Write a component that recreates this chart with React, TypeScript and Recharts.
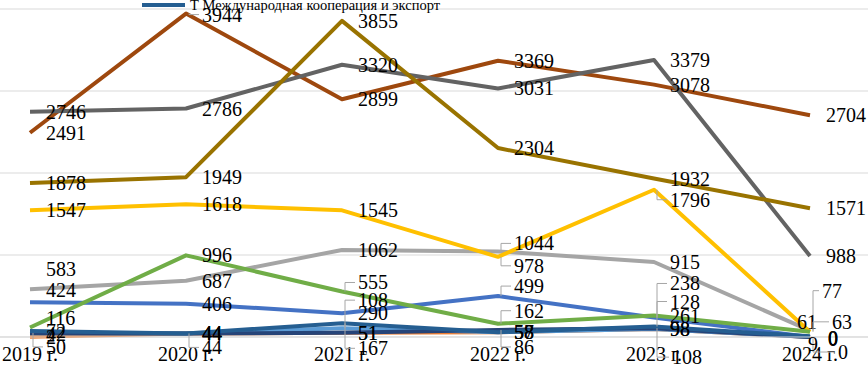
import React from "react";
import { LineChart, Line, XAxis, YAxis, CartesianGrid, LabelList } from "recharts";

const years = ["2019 г.", "2020 г.", "2021 г.", "2022 г.", "2023 г.", "2024 г."];
const yTicks = [0, 1000, 2000, 3000, 4000];

const blue = [424, 406, 290, 499, 238, 0];
const orange = [2, 44, 51, 58, 98, 0];
const gray = [583, 687, 1062, 1044, 915, 77];
const gold = [1547, 1618, 1545, 978, 1796, 61];
const lightBlue = [42, 44, 108, 57, 98, 0];
const green = [116, 996, 555, 162, 261, 63];
const navy = [50, 44, 51, 86, 108, 0];
const rust = [2491, 3944, 2899, 3369, 3078, 2704];
const darkGray = [2746, 2786, 3320, 3031, 3379, 988];
const olive = [1878, 1949, 3855, 2304, 1932, 1571];
const coop = [72, 44, 167, 58, 128, 9];

const series = [
    { key: "blue", color: "#4472C4", values: blue },
    { key: "orange", color: "#ED7D31", values: orange },
    { key: "gray", color: "#A5A5A5", values: gray },
    { key: "gold", color: "#FFC000", values: gold },
    { key: "lightBlue", color: "#5B9BD5", values: lightBlue },
    { key: "green", color: "#70AD47", values: green },
    { key: "navy", color: "#264478", values: navy },
    { key: "rust", color: "#9E480E", values: rust },
    { key: "darkGray", color: "#636363", values: darkGray },
    { key: "olive", color: "#997300", values: olive },
    { key: "coop", color: "#255E91", values: coop, name: "Т Международная кооперация и экспорт" },
];

const data = years.map((year, i) => {
    const row: any = { year };
    series.forEach(s => { row[s.key] = s.values[i]; });
    return row;
});

// label nudges [dx, dy, leader line?] relative to the point; default is right of the point
const nudges: Record<string, Record<number, [number, number, boolean?]>> = {
    rust: { 1: [16, 1, true] },
    gray: { 0: [16, -20], 3: [16, -8, true], 5: [12, -40, true] },
    blue: { 0: [16, -12], 3: [16, -10, true], 4: [16, -34, true], 5: [18, 1] },
    green: { 0: [16, -9], 2: [16, -9, true], 3: [16, -13, true], 5: [22, -10, true] },
    gold: { 3: [16, 9, true], 4: [16, 10, true], 5: [-13, -10] },
    coop: { 2: [16, 25, true], 4: [16, -25, true], 5: [-2, 8] },
    lightBlue: { 2: [16, -28, true], 5: [18, 2] },
    orange: { 5: [18, 1] },
    navy: { 0: [16, 14, true], 1: [16, 14, true], 3: [16, 17, true], 4: [18, 29, true], 5: [28, 15, true] },
};

const FONT = "'Liberation Serif', 'Times New Roman', serif";

const makeLabel = (key: string) => (props: any) => {
    const { x, y, value, index } = props;
    const [dx, dy, lead] = nudges[key]?.[index] ?? [16, 0, false];
    const lx = x + dx;
    const ly = y + dy;
    return (
        <g>
            {lead && (
                <polyline
                    points={`${x + 3},${y} ${x + 3},${ly} ${lx - 3},${ly}`}
                    fill="none"
                    stroke="#a6a6a6"
                    strokeWidth={1}
                />
            )}
            <text x={lx} y={ly} dy="0.35em" fontSize={20} fontFamily={FONT} fill="#000">
                {value}
            </text>
        </g>
    );
};

const YearTick = ({ x, y, payload }: any) => (
    <text x={x} y={y + 24} textAnchor="middle" fontSize={20} fontFamily={FONT} fill="#000">
        {payload.value}
    </text>
);

export default function App() {
    return (
        <div style={{ position: "fixed", left: 0, top: 0, width: 868, height: 370, overflow: "hidden", background: "#fff" }}>
            <LineChart width={868} height={370} data={data} margin={{ top: 9, right: 0, bottom: 3, left: 0 }}>
                <CartesianGrid vertical={false} stroke="#d9d9d9" />
                <XAxis
                    dataKey="year"
                    padding={{ left: 30, right: 58 }}
                    height={30}
                    tickLine={false}
                    tickSize={0}
                    tickMargin={0}
                    axisLine={{ stroke: "#d9d9d9" }}
                    tick={<YearTick />}
                    interval={0}
                />
                <YAxis hide domain={[0, 4000]} ticks={yTicks} width={0} />
                {series.map(s => (
                    <Line
                        key={s.key}
                        dataKey={s.key}
                        name={s.name ?? s.key}
                        stroke={s.color}
                        strokeWidth={4}
                        strokeLinejoin="round"
                        dot={false}
                        type="linear"
                        isAnimationActive={false}
                    >
                        <LabelList dataKey={s.key} content={makeLabel(s.key)} />
                    </Line>
                ))}
            </LineChart>
            <div style={{ position: "absolute", left: 142, top: -2, display: "flex", alignItems: "center", fontFamily: FONT, fontSize: 14.5, lineHeight: "14px", whiteSpace: "nowrap" }}>
                <span style={{ display: "inline-block", width: 43, height: 4, background: "#255E91", marginRight: 5 }} />
                <span>Т Международная кооперация и экспорт</span>
            </div>
        </div>
    );
}
